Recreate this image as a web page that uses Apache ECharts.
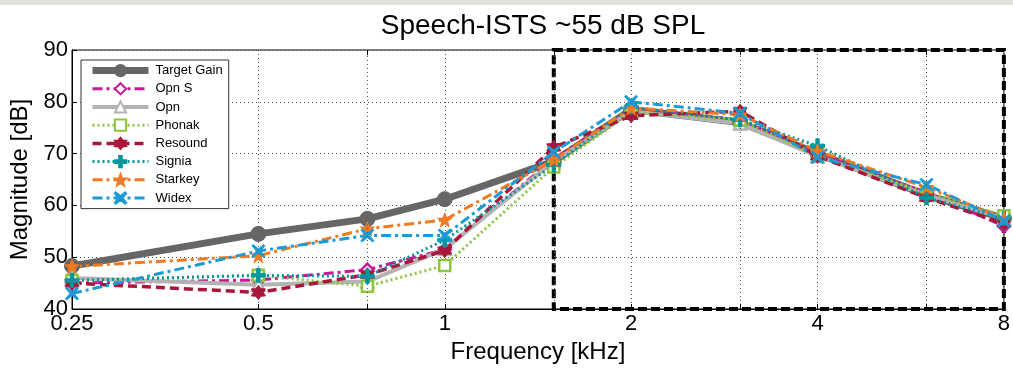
<!DOCTYPE html>
<html>
<head>
<meta charset="utf-8">
<script src="https://cdn.jsdelivr.net/npm/echarts@6/dist/echarts.min.js"></script>
<style>
  html, body { margin: 0; padding: 0; background: #ffffff; }
  #chart { width: 1013px; height: 369px; }
</style>
</head>
<body>
<div id="chart"></div>
<script>
// Audiometric frequencies (kHz)
const freqs = [0.25, 0.5, 0.75, 1, 1.5, 2, 3, 4, 6, 8];
// Labelled octave ticks on the log frequency axis
const xTickLabels = ['0.25', '0.5', '1', '2', '4', '8'];
// Extra grid lines between the octaves
const midFreqs = [0.75, 1.5, 3, 6];
const yTicks = [40, 50, 60, 70, 80, 90];

// Measured output (dB SPL) per frequency
const targetGain = [48.3, 54.5, 57.4, 61.2, 68.5, 78.5, 76.0, 70.0, 62.0, 57.5];
const opnS      = [45.0, 45.6, 47.6, 51.5, 69.0, 78.5, 76.5, 70.0, 62.5, 56.0];
const opn       = [46.0, 44.7, 45.3, 51.6, 68.5, 78.2, 75.8, 69.5, 62.0, 57.5];
const phonak    = [45.5, 46.5, 44.4, 48.4, 67.4, 78.0, 76.5, 69.5, 62.5, 58.0];
const resound   = [45.0, 43.2, 46.6, 51.3, 71.2, 77.3, 78.2, 69.5, 61.5, 56.5];
const signia    = [45.5, 46.5, 46.3, 53.3, 67.8, 79.0, 76.5, 71.5, 61.5, 57.5];
const starkey   = [48.2, 50.3, 55.5, 57.2, 68.8, 78.8, 77.5, 70.5, 63.5, 57.5];
const widex     = [43.0, 51.2, 54.2, 54.2, 70.3, 80.0, 77.8, 69.3, 64.0, 57.0];

// Highlighted high-frequency region
const zoneFrom = 1.5, zoneTo = 8;

const FONT = "'Liberation Sans', Arial, sans-serif";

const plusPath = 'path://M-1.2,-5 L1.2,-5 L1.2,-1.2 L5,-1.2 L5,1.2 L1.2,1.2 L1.2,5 L-1.2,5 L-1.2,1.2 L-5,1.2 L-5,-1.2 L-1.2,-1.2 Z';
const crossPath = 'path://M-4.1,-5 L0,-1.6 L4.1,-5 L5,-4.1 L1.6,0 L5,4.1 L4.1,5 L0,1.6 L-4.1,5 L-5,4.1 L-1.6,0 L-5,-4.1 Z';
const pentaPath = 'path://M0,-5 L1.3,-1.6 L4.8,-1.5 L2,0.7 L3,4.2 L0,2.1 L-3,4.2 L-2,0.7 L-4.8,-1.5 L-1.3,-1.6 Z';
const hexaPath = 'path://M0,-5 L1.6,-2.7 L4.3,-2.5 L3.1,0 L4.3,2.5 L1.6,2.7 L0,5 L-1.6,2.7 L-4.3,2.5 L-3.1,0 L-4.3,-2.5 L-1.6,-2.7 Z';

function pairs(vals) { return freqs.map((f, i) => [f, vals[i]]); }

function line(name, vals, color, width, type, symbol, size, open) {
  return {
    name, type: 'line', data: pairs(vals),
    color,
    symbol, symbolSize: size,
    lineStyle: { color, width, type },
    itemStyle: open
      ? { color: '#ffffff', borderColor: color, borderWidth: 2.5 }
      : { color, borderColor: color, borderWidth: 1 },
    z: 3
  };
}

const series = [
  line('Target Gain', targetGain, '#666666', 7, 'solid', 'circle', 15, false),
  line('Opn S', opnS, '#c8189a', 3, [10, 4, 3, 4], 'diamond', 12, true),
  line('Opn', opn, '#b3b3b3', 4, 'solid', 'triangle', 12, true),
  line('Phonak', phonak, '#8cc63f', 3, [2, 3], 'rect', 11, true),
  line('Resound', resound, '#a8173a', 3.5, [9, 5], hexaPath, 14, false),
  line('Signia', signia, '#00979d', 3, [2, 3], plusPath, 14, false),
  line('Starkey', starkey, '#f07a22', 3, [10, 4, 3, 4], pentaPath, 14, false),
  line('Widex', widex, '#1b9ad6', 3, [10, 4, 3, 4], crossPath, 13, false)
];

// Legend entries keep each series' own stroke width
const legendData = series.map(s => ({
  name: s.name,
  lineStyle: { width: s.lineStyle.width }
}));

// Grid helpers: extra dotted verticals, inner tick marks and the dashed zone box
series.push({
  name: '_grid', type: 'line', data: [], silent: true,
  markLine: {
    silent: true, symbol: 'none', label: { show: false },
    lineStyle: { color: '#555', width: 1, type: [1, 3] },
    data: midFreqs.map(f => ({ xAxis: f }))
  },
  z: 1
});
series.push({
  name: '_ticks', type: 'line', data: [], silent: true,
  markLine: {
    silent: true, symbol: 'none', label: { show: false },
    lineStyle: { color: '#000', width: 1, type: 'solid' },
    data: midFreqs.flatMap(f => [
      [{ coord: [f, 40] }, { coord: [f, 41] }],
      [{ coord: [f, 90] }, { coord: [f, 89] }]
    ])
  },
  z: 1
});
series.push({
  name: '_zone', type: 'line', data: [], silent: true,
  markArea: {
    silent: true,
    itemStyle: { color: 'rgba(0,0,0,0)', borderColor: '#000', borderWidth: 4, borderType: [9, 4] },
    data: [[{ coord: [zoneFrom, 90] }, { coord: [zoneTo, 40] }]]
  },
  z: 2
});

const chart = echarts.init(document.getElementById('chart'), null, { renderer: 'canvas' });
chart.setOption({
  animation: false,
  backgroundColor: '#ffffff',
  textStyle: { fontFamily: FONT },
  title: {
    text: 'Speech-ISTS ~55 dB SPL',
    left: 538, top: 7, textAlign: 'center',
    textStyle: { fontFamily: FONT, fontSize: 28, fontWeight: 'normal', color: '#000' }
  },
  graphic: [{
    type: 'rect', left: 0, top: 0, shape: { width: 1013, height: 5 },
    style: { fill: '#e2e0dc' }, silent: true
  }],
  legend: {
    orient: 'vertical', left: 81, top: 60,
    data: legendData,
    itemWidth: 56, itemHeight: 14, itemGap: 5,
    padding: [4, 6, 4, 8],
    backgroundColor: '#ffffff',
    borderColor: '#333', borderWidth: 1, borderRadius: 0,
    textStyle: { fontFamily: FONT, fontSize: 13, color: '#000', padding: [0, 0, 0, 2] }
  },
  grid: {
    left: 72, right: 8, top: 50, bottom: 57,
    show: true, borderColor: '#000', borderWidth: 1, backgroundColor: 'transparent'
  },
  xAxis: {
    type: 'log', logBase: 2, min: 0.25, max: 8,
    name: 'Frequency [kHz]', nameLocation: 'middle', nameGap: 31,
    nameTextStyle: { fontFamily: FONT, fontSize: 24, color: '#000' },
    axisLine: { lineStyle: { color: '#000', width: 1 } },
    axisTick: { inside: true, length: 5, lineStyle: { color: '#000' } },
    axisLabel: {
      fontFamily: FONT, fontSize: 22, color: '#000', margin: 4,
      formatter: v => xTickLabels.find(t => Math.abs(parseFloat(t) - v) < 1e-6) || ''
    },
    splitLine: { show: true, lineStyle: { color: '#555', width: 1, type: [1, 3] } }
  },
  yAxis: {
    type: 'value', min: yTicks[0], max: yTicks[yTicks.length - 1], interval: 10,
    name: 'Magnitude [dB]', nameLocation: 'middle', nameGap: 38,
    nameTextStyle: { fontFamily: FONT, fontSize: 24, color: '#000' },
    axisLine: { show: true, lineStyle: { color: '#000', width: 1 } },
    axisTick: { show: true, inside: true, length: 5, lineStyle: { color: '#000' } },
    axisLabel: { fontFamily: FONT, fontSize: 22, color: '#000', margin: 4 },
    splitLine: { show: true, lineStyle: { color: '#555', width: 1, type: [1, 3] } }
  },
  series
});
</script>
</body>
</html>
